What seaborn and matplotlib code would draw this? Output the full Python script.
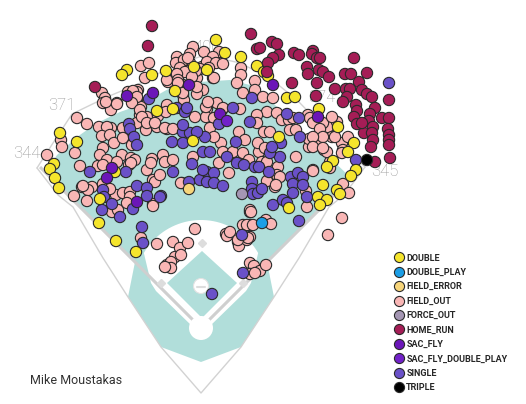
import matplotlib
matplotlib.use("Agg")
import matplotlib.pyplot as plt
import seaborn as sns
import pandas as pd
from matplotlib.patches import Polygon, Circle
from matplotlib.lines import Line2D
import numpy as np

# batted ball locations, chart coords (x right, y down), Mike Moustakas
field_out = [
    (193,47),(204,52),(190,54),(219,52),(213,57),(222,63),(208,64),(202,67),(190,63),(177,57),
    (182,62),(176,63),(186,71),(179,75),(168,82),(178,83),(197,78),(213,78),(141,66),(149,63),
    (145,78),(241,68),(241,75),(237,83),(255,81),(243,93),(203,90),(197,94),(183,95),(255,90),
    (128,92),(138,90),(184,60),(188,58),(207,62),(216,63),(223,64),(209,68),(200,69),(180,68),
    (185,72),(196,71),(192,77),(177,74),(214,78),(183,85),(184,100),(167,80),(178,80),(102,93),
    (105,98),(103,103),(111,110),(117,103),(137,92),(137,100),(141,107),(140,115),(147,117),(158,116),
    (167,105),(166,112),(77,118),(87,124),(111,128),(123,128),(137,123),(146,130),(157,127),(167,129),
    (207,109),(206,117),(214,118),(222,110),(217,103),
    (263,97),(273,98),(267,112),(277,113),(282,120),(289,120),(293,118),(308,115),(257,115),(257,123),
    (264,132),(270,132),(290,130),(296,130),(315,137),(317,145),(324,150),(309,147),(309,139),(328,127),
    (332,137),(323,123),(337,122),(342,143),(343,150),(330,162),(327,152),(239,132),(245,140),(221,143),
    (223,152),(233,152),(243,153),(259,152),(258,143),(265,148),(249,160),(262,162),(267,162),(278,167),
    (277,175),(296,157),(313,170),(275,187),(307,207),(250,212),(243,225),(250,225),(226,234),(342,218),
    (328,235),(206,107),(208,102),(223,108),(240,109),(210,128),(195,117),(214,137),
    (310,118),(313,123),(332,117),(320,129),(323,137),(313,137),(335,137),(348,137),(313,147),(323,148),
    (342,153),(330,168),
    (106,102),(117,104),(133,91),(137,97),(132,103),(140,110),(142,117),(147,123),(155,123),(165,128),
    (173,129),(178,83),(183,93),(197,87),(99,127),(107,127),(102,136),(110,135),(114,143),(123,138),
    (132,145),(103,148),(100,155),(107,160),(122,155),(131,158),(135,160),(129,165),(61,140),(62,147),
    (75,153),(47,155),(80,166),(98,166),(117,162),(147,170),(152,159),(163,155),(165,162),(173,160),
    (193,157),(182,183),(153,180),(92,187),(82,187),(88,190),(116,195),(128,193),
    (103,165),(83,186),(103,184),(110,189),(74,196),(87,201),(112,212),(118,210),(123,193),(130,192),
    (130,197),(127,203),(153,204),(155,182),(160,175),(151,163),(131,163),(141,238),(157,244),(195,229),
    (173,242),(175,257),(180,248),(188,243),(181,255),(219,163),(181,183),(227,236),
    (153,206),(167,265),(171,262),(171,268),(165,267),(230,232),(238,242),(239,246),(247,240),(250,237),
    (250,210),(247,225),(253,225),(266,220),(271,224),(250,263),(254,266),(260,271),(266,265),(250,274),
    (255,273),(229,173),(267,181),(280,177),(276,185),(313,171),(306,191),(343,184),(349,193),(251,212),
    (238,240),(248,238),
]
single = [
    (129,124),(130,129),(134,137),(137,145),(149,99),(177,108),(185,112),(187,108),(172,142),(183,132),
    (190,133),(183,143),(192,164),(173,172),(90,172),(126,172),(103,190),(137,186),(147,188),(189,182),
    (161,196),(104,197),(112,204),(102,210),(120,217),(147,196),(160,197),(133,209),(142,227),(143,243),
    (200,180),(207,172),(207,182),(214,173),(214,183),(223,186),(219,124),(252,98),(233,108),(250,122),
    (287,114),(299,118),(300,137),(236,142),(205,137),(203,152),(210,152),(227,157),(237,163),(244,165),
    (255,167),(259,167),(269,172),(280,157),(281,143),(270,153),(272,147),(291,177),(298,173),(303,177),
    (293,184),(303,185),(252,182),(252,189),(253,194),(258,193),(262,189),(273,205),(283,200),(287,203),
    (307,197),(299,221),(293,193),(356,160),(203,170),(242,235),(243,273),(212,294),(389,83),(197,132),
    (183,125),
]
double = [
    (216,40),(225,53),(241,57),(257,66),(264,72),(268,76),(127,70),(122,75),(152,75),(166,71),
    (175,91),(207,70),(194,67),(157,111),(173,109),(60,133),(77,142),(54,164),(50,169),(55,178),
    (59,188),(115,172),(193,141),(100,199),(99,223),(116,241),(136,252),(287,98),(295,97),(319,109),
    (338,127),(354,143),(348,152),(333,161),(327,167),(356,170),(351,176),(323,185),(337,190),(340,194),
    (318,197),(327,200),(320,205),(289,208),(279,137),
]
home_run = [
    (152,26),(148,46),(95,87),(251,34),(257,49),(272,42),(277,44),(260,48),(279,55),(273,58),
    (268,63),(267,72),(294,53),(299,55),(313,51),(312,54),(317,58),(320,58),(307,67),(308,74),
    (319,70),(323,72),(329,77),(317,83),(292,83),(354,58),(345,74),(351,74),(367,73),(359,82),
    (335,89),(346,89),(350,89),(362,90),(367,94),(372,97),(316,96),(347,97),(343,102),(356,105),
    (375,108),(389,100),(357,111),(354,117),(357,124),(370,114),(369,121),(382,118),(389,118),(364,133),
    (373,127),(372,133),(373,140),(371,147),(388,129),(389,135),(389,140),(389,145),(390,158),(375,162),
    (362,123),
]
sac_fly = [(127,96),(153,93),(189,85),(112,168),(107,178),(137,202),(220,114),(318,117),(273,85)]
sac_fly_dp = [(227,121)]
double_play = [(262,223)]
field_error = [(189,189)]
force_out = [(242,194)]
triple = [(367,160)]

events = ["DOUBLE", "DOUBLE_PLAY", "FIELD_ERROR", "FIELD_OUT", "FORCE_OUT",
          "HOME_RUN", "SAC_FLY", "SAC_FLY_DOUBLE_PLAY", "SINGLE", "TRIPLE"]
colors = ["#f5e52c", "#1b9ee6", "#f7d57a", "#f9b6b5", "#a496b3",
          "#a51d56", "#6b16b8", "#7221c9", "#6a51c8", "#000000"]

# park outline (Milwaukee), chart coords
home = (201, 328)
wall = [(37,168),(53,143),(72,114),(107,97),(143,82),(172,66),(205,55),(240,63),(270,78),
        (298,101),(330,134),(365,167)]
foul_outline = [(37,168),(58,195),(73,207),(103,258),(128,297),(161,347),(201,393),
                (241,347),(274,297),(299,258),(329,207),(344,195),(365,167)]
grass = [(47,174),(50,166),(57,155),(77,137),(97,123),(120,112),(140,105),(170,88),(200,82),
         (230,80),(250,85),(265,94),(273,103),(351,178),(300,229),(267,262),(274,297),(241,347),
         (201,362),(161,347),(128,297),(135,262),(102,229)]
dist_labels = [("344", 27, 154), ("371", 62, 105), ("400", 207, 47), ("374", 322, 97), ("345", 385, 172)]

sns.set_theme(style="white")
plt.rcParams["font.family"] = ["Roboto", "DejaVu Sans"]

fig = plt.figure(figsize=(5.26, 4.04), dpi=100)
ax = fig.add_axes([0, 0, 1, 1])
ax.set_xlim(0, 526)
ax.set_ylim(404, 0)
ax.axis("off")

teal = "#b1deda"
line_gray = "#d2d2d2"
ax.add_patch(Polygon(grass, closed=True, fc=teal, ec="none", zorder=1))
ax.plot(*zip(*wall), color=line_gray, lw=1, zorder=1.5)
ax.plot(*zip(*foul_outline), color=line_gray, lw=1, zorder=1.5)

# infield dirt and grass
mound = (201, 286)
ang = np.radians(np.linspace(150, 30, 40))
arc = [(mound[0] + 66 * np.cos(a), mound[1] - 66 * np.sin(a)) for a in ang]
dirt = arc + [(251, 283), (246, 291), (209, 327), (193, 327), (156, 291), (151, 283)]
ax.add_patch(Polygon(dirt, closed=True, fc="white", ec="none", zorder=2))
ax.add_patch(Polygon([(167, 283), (202, 251), (237, 283), (202, 318)], closed=True,
                     fc=teal, ec="none", zorder=2.2))

# foul lines
ax.plot([home[0], 40], [home[1], 167], color="#cfcfcf", lw=2.2, zorder=2.5, solid_capstyle="butt")
ax.plot([home[0], 362], [home[1], 167], color="#cfcfcf", lw=2.2, zorder=2.5, solid_capstyle="butt")

ax.add_patch(Circle(home, 12, fc="white", ec="none", zorder=3))
ax.add_patch(Circle(mound, 7.5, fc="white", ec="#e2e2e2", lw=0.8, zorder=3))
ax.plot([197, 205], [287, 287], color="#dddddd", lw=1.5, zorder=3.1)
ax.plot([161, 202, 243], [283, 243, 283], ls="", marker="D", ms=4, color="#dddddd", zorder=3.1)

for txt, x, y in dist_labels:
    ax.text(x, y, txt, ha="center", va="center", fontsize=12, color="#9a9a9a",
            fontweight="light", zorder=4)

groups = [double, double_play, field_error, field_out, force_out,
          home_run, sac_fly, sac_fly_dp, single, triple]
order = [3, 8, 0, 5, 6, 7, 1, 2, 4, 9]
rows = []
for i in order:
    for x, y in groups[i]:
        rows.append({"hc_x": x, "hc_y": y, "events": events[i]})
df = pd.DataFrame(rows)

palette = dict(zip(events, colors))
sns.scatterplot(data=df, x="hc_x", y="hc_y", hue="events", palette=palette,
                hue_order=events, s=66, edgecolor="#2a2a2a", linewidth=0.8,
                legend=False, ax=ax, zorder=10)
ax.set_xlim(0, 526)
ax.set_ylim(404, 0)

handles = [Line2D([0], [0], marker="o", ls="", markerfacecolor=c, markeredgecolor="#2a2a2a",
                  markeredgewidth=0.8, markersize=7.3) for c in colors]
leg = ax.legend(handles, events, loc="upper left", bbox_to_anchor=(390 / 526, 1 - 249 / 404),
                bbox_transform=fig.transFigure, frameon=False, borderpad=0,
                handlelength=1.0, handletextpad=0.3, labelspacing=0.6,
                prop={"weight": "bold", "size": 6.5})

ax.text(30, 380, "Mike Moustakas", ha="left", va="center", fontsize=9, color="#333333")

fig.savefig("out.png", dpi=100)
